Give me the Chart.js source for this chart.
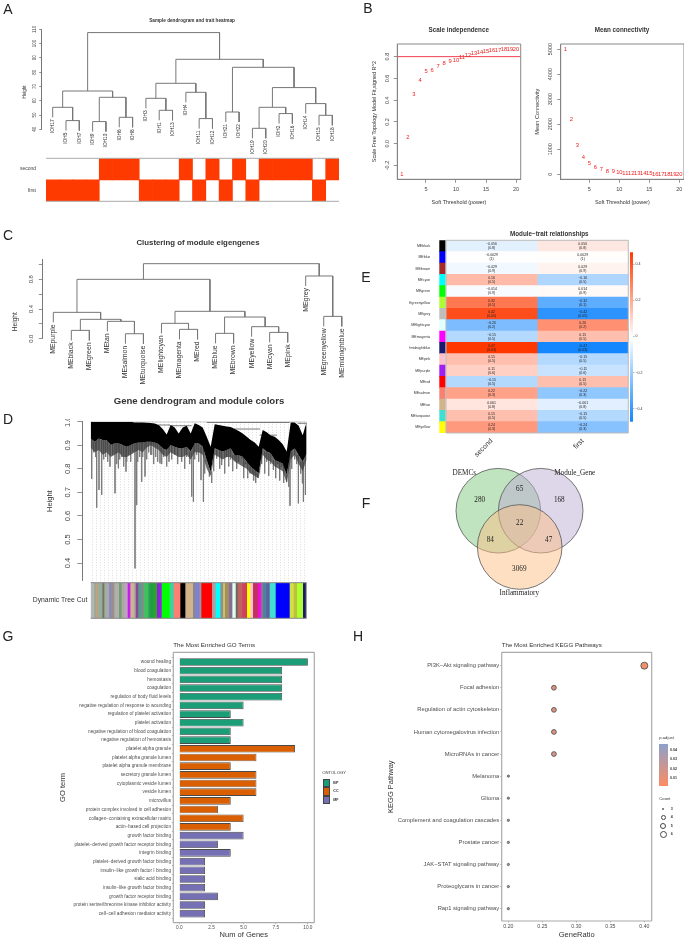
<!DOCTYPE html>
<html>
<head>
<meta charset="utf-8">
<title>Figure</title>
<script src="https://cdn.jsdelivr.net/npm/chart.js@4"></script>
<style>
html,body{margin:0;padding:0;background:#fff}
#page{position:relative;width:685px;height:939px;overflow:hidden;background:#fff;filter:blur(0.35px)}
#page canvas{position:absolute}
#page div{position:absolute}
</style>
</head>
<body>
<div id="page"></div>
<script>
// ---- panel A
var sampleLeaves = ['IOH17','IOH5','IOH7','IOH9','IOH10','IOH6','IOH8','IOH3','IOH1','IOH13','IOH4','IOH11','IOH12','IOH21','IOH22','IOH19','IOH20','IOH2','IOH16','IOH14','IOH15','IOH18'];
// merges like hclust: negative = leaf number, positive = earlier merge, then height
var sampleMerges = [[-2,-3,46.1],[-1,1,55.4],[-4,-5,45.4],[-6,-7,48.4],[3,4,62.4],[2,5,66.8],[-9,-10,53.3],[-8,7,61.7],[-12,-13,47.5],[-11,9,65.9],[8,10,72.2],[-14,-15,52.1],[-16,-17,40.7],[-18,-19,51],[13,14,55.4],[-21,-22,49.8],[-20,16,58],[15,17,69.2],[12,18,83.4],[11,19,89],[6,20,107.7]];
var sampleTicks = [40,50,60,70,80,90,100,110];
var traitSecond = [0,0,0,0,1,1,1,0,0,0,1,0,1,0,1,0,1,1,1,1,0,1];
var traitFirst  = [1,1,1,1,0,0,0,1,1,1,0,1,0,1,0,1,0,0,0,0,1,0];

// ---- panel B
var powers = [1,2,3,4,5,6,7,8,9,10,11,12,13,14,15,16,17,18,19,20];
var scaleFit = [-0.284,0.061,0.456,0.581,0.66,0.676,0.714,0.74,0.755,0.768,0.79,0.807,0.829,0.838,0.844,0.853,0.859,0.865,0.865,0.868];
var meanConn = [5000,2195,1150,675,437,278,198,132,106,80,53,40,40,26,26,13,13,13,13,13];
var powerTicks = [5,10,15,20];
var fitTicks = [-0.2,0,0.2,0.4,0.6,0.8];
var connTicks = [0,1000,2000,3000,4000,5000];

// ---- panel C
var eigenLeaves = ['MEpurple','MEblack','MEgreen','MEtan','MEsalmon','MEturquoise','MElightcyan','MEmagenta','MEred','MEblue','MEbrown','MEyellow','MEcyan','MEpink','MEgrey','MEgreenyellow','MEmidnightblue'];
var eigenMerges = [[-2,-3,0.112],[-5,-6,0.067],[-4,2,0.234],[1,3,0.261],[-1,4,0.355],[-8,-9,0.126],[-7,6,0.207],[-10,-11,0.072],[-13,-14,0.085],[-12,9,0.162],[8,10,0.292],[7,11,0.369],[5,12,0.8],[-16,-17,0.301],[-15,14,0.845],[13,15,1.011]];
var eigenTicks = [0,0.2,0.4,0.6,0.8,1];

// ---- panel D, every 4 units of tree position
var treeUpper = [1,1,1,1,1,1,1,1,1,1,1,0.997,0.997,0.997,0.996,0.994,0.992,0.986,0.969,0.946,0.986,0.975,0.95,0.975,0.983,0.95,0.993,0.986,0.975,0.936,0.894,0.989,0.986,0.983,0.98,0.977,0.969,0.96,0.95,0.936,0.922,0.912,0.894,0.965,0.955,0.941,0.936,0.922,0.904,0.873,0.997,0.997,0.983,0.943,1];
var treeLower = [0.929,0.915,0.929,0.922,0.922,0.901,0.908,0.908,0.901,0.894,0.901,0.908,0.912,0.912,0.915,0.915,0.912,0.904,0.887,0.88,0.901,0.894,0.887,0.887,0.894,0.873,0.908,0.908,0.894,0.837,0.788,0.887,0.88,0.873,0.88,0.887,0.858,0.858,0.851,0.83,0.809,0.795,0.781,0.887,0.873,0.866,0.837,0.83,0.823,0.774,0.873,0.887,0.858,0.83,0.866];
var treeFuzz = [0.89,0.87,0.88,0.86,0.87,0.85,0.86,0.87,0.85,0.85,0.86,0.87,0.88,0.87,0.89,0.9,0.89,0.88,0.86,0.85,0.87,0.86,0.85,0.85,0.86,0.84,0.87,0.87,0.86,0.8,0.77,0.86,0.85,0.84,0.85,0.85,0.83,0.82,0.81,0.8,0.78,0.77,0.76,0.86,0.84,0.83,0.81,0.8,0.79,0.74,0.84,0.86,0.82,0.79,0.84];
var treeSpikeX = [1,3,6,8.3,11,15,19.3,22,24.3,27.7,31,35.3,38,40,42,44.3,46,49,51,54.3,58,61,65,69.3,73,78.3,84,91,96,101,102.7,106,110.3,112.7,116,118.7,126,131,136,140,144.3,148,151,155,159.3,161.7,167,171,176,180,182.7,187,191,196,198,199.3,204,207.7,211.7,212.7,214.7,5,13,17,26,29,33,36,47,52,56,60,63,67,71,76,81,87,94,99,104,108,114,121,123,129,134,138,142,146,153,157,163,165,169,174,178,185,189,193,201,206,210];
var treeSpikeH = [0.757,0.87,0.635,0.71,0.689,0.85,0.809,0.86,0.696,0.802,0.85,0.788,0.86,0.83,0.87,0.377,0.646,0.85,0.745,0.767,0.87,0.86,0.85,0.823,0.85,0.83,0.86,0.83,0.85,0.682,0.66,0.86,0.752,0.66,0.84,0.767,0.844,0.816,0.85,0.84,0.837,0.83,0.844,0.82,0.781,0.781,0.762,0.82,0.83,0.82,0.795,0.82,0.809,0.745,0.724,0.643,0.84,0.653,0.738,0.66,0.689,0.85,0.84,0.83,0.82,0.84,0.81,0.83,0.83,0.85,0.84,0.86,0.82,0.83,0.82,0.81,0.84,0.82,0.8,0.82,0.84,0.83,0.78,0.74,0.79,0.8,0.78,0.81,0.79,0.8,0.76,0.76,0.75,0.74,0.8,0.78,0.77,0.76,0.75,0.74,0.8,0.82,0.78];
var treeBranches = [[67.7,79.3,0.986],[79,101,0.983],[142.7,169.3,0.969],[169,186,0.943],[116,199,0.997],[207,216,0.993]];
var heightTicks = [0.4,0.5,0.6,0.7,0.8,0.9,1];
var treeCutWidths = [10,4,8,12,6,6,8,10,6,14,8,8,10,8,10,6,8,10,6,14,6,10,10,14,24,12,20,15,23,6,14,5,32,11,14,8,6,12,10,10,6,14,14,10,8,16,8,6,10,10,18,42,12,10,18,8,4];
var treeCutColors = ['#b5b5b5','#8fa88f','#c0a080','#8fb09f','#807060','#9fb0a0','#a9a9b0','#8c8cb0','#a09080','#b0b0b0','#6fa070','#b0a8a0','#bfa0bf','#c020f0','#d2b48c','#a9a9a9','#8a4a90','#5a9a8a','#888888','#40c060','#30a050','#20a040','#30a030','#9020e0','#00ff00','#40d0a0','#fa8072','#000000','#d2b48c','#888888','#8080d0','#999999','#ff0000','#b0a0a0','#00ffff','#909090','#d0c060','#a09060','#8a6a9a','#e0ffe8','#666666','#c06060','#d04060','#ffff00','#ffc0cb','#c03060','#ff00ff','#808080','#5080a0','#6060a0','#40e0d0','#0000ff','#d0e040','#c0c040','#adff2f','#191970','#808060'];

// ---- panel E
var modules = ['MEblack','MEblue','MEbrown','MEcyan','MEgreen','MEgreenyellow','MEgrey','MElightcyan','MEmagenta','MEmidnightblue','MEpink','MEpurple','MEred','MEsalmon','MEtan','MEturquoise','MEyellow'];
var moduleColors = ['#000000','#0000ff','#a52a2a','#00ffff','#00ff00','#adff2f','#bebebe','#e0ffff','#ff00ff','#191970','#ffc0cb','#a020f0','#ff0000','#fa8072','#d2b48c','#40e0d0','#ffff00'];
var traits = ['second','first'];
var corSecond = [-0.056,-0.0029,-0.029,0.16,-0.014,0.32,0.42,-0.26,-0.15,0.47,0.15,0.11,-0.15,0.22,0.061,0.15,0.24];
var corFirst = [0.056,0.0029,0.029,-0.16,0.014,-0.32,-0.42,0.26,0.15,-0.47,-0.15,-0.11,0.15,-0.22,-0.061,-0.15,-0.24];
var corP = [0.8,1,0.9,0.5,0.9,0.1,0.05,0.2,0.5,0.03,0.5,0.6,0.5,0.3,0.8,0.5,0.3];
var corTicks = [-0.4,-0.2,0,0.2,0.4];

// ---- panel F
var vennSets = ['DEMCs','Module_Gene','Inflammatory'];
var vennCounts = [280,168,65,22,84,47,3069];

// ---- panel G
var goTerms = ['wound healing','blood coagulation','hemostasis','coagulation','regulation of body fluid levels','negative regulation of response to wounding','regulation of platelet activation','platelet activation','negative regulation of blood coagulation','negative regulation of hemostasis','platelet alpha granule','platelet alpha granule lumen','platelet alpha granule membrane','secretory granule lumen','cytoplasmic vesicle lumen','vesicle lumen','microvillus','protein complex involved in cell adhesion','collagen\u2212containing extracellular matrix','actin\u2212based cell projection','growth factor binding','platelet\u2212derived growth factor receptor binding','integrin binding','platelet\u2212derived growth factor binding','insulin\u2212like growth factor I binding','sialic acid binding','insulin\u2212like growth factor binding','growth factor receptor binding','protein serine/threonine kinase inhibitor activity','cell\u2212cell adhesion mediator activity'];
var goCounts = [10,8,8,8,8,5,4,5,4,4,9,6,4,6,6,6,4,3,5,4,5,3,4,2,2,2,2,3,2,2];
var goOntology = ['BP','BP','BP','BP','BP','BP','BP','BP','BP','BP','CC','CC','CC','CC','CC','CC','CC','CC','CC','CC','MF','MF','MF','MF','MF','MF','MF','MF','MF','MF'];
var goTicks = [0,2.5,5,7.5,10];

// ---- panel H
var keggPaths = ['PI3K\u2212Akt signaling pathway','Focal adhesion','Regulation of actin cytoskeleton','Human cytomegalovirus infection','MicroRNAs in cancer','Melanoma','Glioma','Complement and coagulation cascades','Prostate cancer','JAK\u2212STAT signaling pathway','Proteoglycans in cancer','Rap1 signaling pathway'];
var keggRatio = [0.4,0.267,0.267,0.267,0.267,0.2,0.2,0.2,0.2,0.2,0.2,0.2];
var keggCount = [6,4,4,4,4,3,3,3,3,3,3,3];
var keggPadj = [0.004,0.012,0.012,0.012,0.015,0.028,0.028,0.028,0.028,0.028,0.03,0.03];
var ratioTicks = [0.2,0.25,0.3,0.35,0.4];

var SANS = '"Liberation Sans", Arial, sans-serif';
var SERIF = '"Liberation Serif", "Times New Roman", serif';
var page = document.getElementById('page');
Chart.defaults.font.family = SANS;

// titles, panel letters and legend text go on one see-through sheet
var sheet = document.createElement('canvas');
sheet.width = 685;
sheet.height = 939;
sheet.style.left = '0';
sheet.style.top = '0';
sheet.style.zIndex = '5';
page.appendChild(sheet);
var sheetCtx = sheet.getContext('2d');

// frame round the plot area
Chart.register({
  id: 'frame',
  afterDatasetsDraw: function(chart, args, o) {
    if (!o.color) return;
    var a = chart.chartArea, c = chart.ctx;
    var sides = o.sides || ['top','right','bottom','left'];
    var left = o.fromX !== undefined ? chart.scales.x.getPixelForValue(o.fromX) : a.left;
    c.save();
    c.strokeStyle = o.color;
    c.lineWidth = o.width || 1;
    c.beginPath();
    if (sides.indexOf('top') >= 0) { c.moveTo(left, a.top); c.lineTo(a.right, a.top); }
    if (sides.indexOf('bottom') >= 0) { c.moveTo(left, a.bottom); c.lineTo(a.right, a.bottom); }
    if (sides.indexOf('left') >= 0) { c.moveTo(left, a.top); c.lineTo(left, a.bottom); }
    if (sides.indexOf('right') >= 0) { c.moveTo(a.right, a.top); c.lineTo(a.right, a.bottom); }
    c.stroke();
    c.restore();
  }
});

// put a chart on the page so that its plot area lands on area = [left, top, right, bottom]
function place(area, margin, cfg) {
  var left = Math.floor(area[0] - margin[0]), top = Math.floor(area[1] - margin[1]);
  var right = Math.ceil(area[2] + margin[2]), bottom = Math.ceil(area[3] + margin[3]);
  var cv = document.createElement('canvas');
  cv.width = right - left;
  cv.height = bottom - top;
  cv.style.left = left + 'px';
  cv.style.top = top + 'px';
  page.appendChild(cv);
  var sc = cfg.options.scales;
  var onRight = sc.y.position === 'right';
  sc.x.afterFit = function(s) { s.height = bottom - area[3]; s.paddingLeft = s.paddingRight = s.paddingTop = s.paddingBottom = 0; };
  sc.y.afterFit = function(s) { s.width = onRight ? right - area[2] : area[0] - left; s.paddingLeft = s.paddingRight = s.paddingTop = s.paddingBottom = 0; };
  cfg.options.responsive = false;
  cfg.options.animation = false;
  cfg.options.layout = { autoPadding: false, padding: { top: area[1] - top, left: onRight ? area[0] - left : 0, right: onRight ? 0 : right - area[2], bottom: 0 } };
  cfg.options.plugins = Object.assign({ legend: { display: false }, tooltip: { enabled: false } }, cfg.options.plugins || {});
  return new Chart(cv, cfg);
}

function txt(s, x, y, size, o) {
  o = o || {};
  var c = sheetCtx;
  c.save();
  c.font = (o.bold ? 'bold ' : '') + size + 'px ' + (o.font || SANS);
  c.fillStyle = o.color || '#333';
  c.textAlign = o.align || 'center';
  c.textBaseline = 'middle';
  c.translate(x, y);
  if (o.rot) c.rotate(o.rot * Math.PI / 180);
  c.fillText(s, 0, 0);
  c.restore();
}

var meter = document.createElement('canvas').getContext('2d');
function textWidth(s, size) {
  meter.font = size + 'px ' + SANS;
  return meter.measureText(s).width;
}

// base-R looking axes
function rAxisY(ticks, min, max, size, tl, dist, fmt, extra) {
  var widest = 0;
  ticks.forEach(function(t) { widest = Math.max(widest, textWidth(fmt(t), size)); });
  return Object.assign({
    type: 'linear', min: min, max: max,
    afterBuildTicks: function(s) { s.ticks = ticks.map(function(v) { return { value: v }; }); },
    ticks: { autoSkip: false, font: { size: size }, color: '#444', minRotation: 90, maxRotation: 90, crossAlign: 'center', padding: dist - tl - widest / 2, callback: fmt },
    grid: { drawOnChartArea: false, tickLength: tl, color: '#777', lineWidth: 0.8 },
    border: { color: '#777', width: 1 }
  }, extra || {});
}
function rAxisX(ticks, min, max, size, tl, pad, extra) {
  return Object.assign({
    type: 'linear', min: min, max: max,
    afterBuildTicks: function(s) { s.ticks = ticks.map(function(v) { return { value: v }; }); },
    ticks: { autoSkip: false, font: { size: size }, color: '#444', maxRotation: 0, padding: pad, callback: function(v) { return String(v); } },
    grid: { drawOnChartArea: false, tickLength: tl, color: '#777', lineWidth: 0.8 },
    border: { color: '#777', width: 1 }
  }, extra || {});
}
function hiddenAxis(min, max) {
  return { type: 'linear', min: min, max: max, ticks: { display: false }, grid: { display: false }, border: { display: false } };
}
function axisTitle(text, size) {
  return { display: true, text: text, font: { size: size }, color: '#333', padding: 0 };
}

// turns merges into a broken line (NaN = pen up) and remembers where each leaf ends
function dendroLines(merges, hang) {
  var pts = [], mid = [], ends = {};
  function side(id, h) {
    if (id < 0) {
      ends[-id] = h - hang;
      return { x: -id, y: h - hang };
    }
    return { x: mid[id - 1], y: merges[id - 1][2] };
  }
  merges.forEach(function(m) {
    var a = side(m[0], m[2]), b = side(m[1], m[2]);
    mid.push((a.x + b.x) / 2);
    pts.push({ x: a.x, y: a.y }, { x: a.x, y: m[2] }, { x: b.x, y: m[2] }, { x: b.x, y: b.y }, { x: a.x, y: NaN });
  });
  return { pts: pts, ends: ends };
}
function leafLabels(names, ends, size, gap) {
  return {
    id: 'leafLabels',
    afterDatasetsDraw: function(chart) {
      var c = chart.ctx;
      c.save();
      c.font = size + 'px ' + SANS;
      c.fillStyle = '#333';
      c.textAlign = 'right';
      c.textBaseline = 'middle';
      names.forEach(function(n, i) {
        c.save();
        c.translate(chart.scales.x.getPixelForValue(i + 1), chart.scales.y.getPixelForValue(ends[i + 1]) + gap);
        c.rotate(-Math.PI / 2);
        c.fillText(n, 0, 0);
        c.restore();
      });
      c.restore();
    }
  };
}
function treeSet(pts) {
  return { type: 'scatter', data: pts, showLine: true, borderColor: '#777', borderWidth: 1, pointRadius: 0, clip: false, spanGaps: false, tension: 0 };
}

// panel letters
[['A',8,10],['B',368,9],['C',8,236],['D',8,420],['E',366,278],['F',366,504],['G',8,637],['H',358,637]].forEach(function(p) {
  txt(p[0], p[1], p[2], 14, { color: '#222' });
});

// ---- A: dendrogram
var aTree = dendroLines(sampleMerges, 7);
txt('Sample dendrogram and trait heatmap', 192, 20.7, 4.7, { bold: true });
txt('Height', 24.7, 92, 4.5, { rot: -90 });
place([41.7, 29.3, 339, 129.3], [12, 4, 2, 28], {
  type: 'scatter',
  data: { datasets: [treeSet(aTree.pts)] },
  options: {
    scales: {
      x: hiddenAxis(0.176, 22.5),
      y: rAxisY(sampleTicks, 40, 110, 4.5, 2.5, 7, String)
    }
  },
  plugins: [leafLabels(sampleLeaves, aTree.ends, 4.8, 2)]
});
// A: trait heatmap
place([46, 158.3, 339, 201.3], [30, 2, 2, 2], {
  type: 'bar',
  data: {
    labels: sampleLeaves,
    datasets: [
      { data: traitSecond.map(function(v) { return v ? [1, 2] : null; }), backgroundColor: '#ff3a00', grouped: false, barPercentage: 1, categoryPercentage: 1 },
      { data: traitFirst.map(function(v) { return v ? [0, 1] : null; }), backgroundColor: '#ff3a00', grouped: false, barPercentage: 1, categoryPercentage: 1 }
    ]
  },
  options: {
    plugins: { frame: { color: '#aaa', width: 1, sides: ['top', 'bottom'] } },
    scales: {
      x: { type: 'category', ticks: { display: false }, grid: { display: false }, border: { display: false } },
      y: {
        type: 'linear', min: 0, max: 2,
        afterBuildTicks: function(s) { s.ticks = [{ value: 0.5 }, { value: 1.5 }]; },
        ticks: { font: { size: 5 }, color: '#444', padding: 2, callback: function(v) { return v > 1 ? 'second' : 'first'; } },
        grid: { display: false }, border: { display: false }
      }
    }
  }
});

// ---- B: red numbers as points
function powerLabels() {
  return {
    id: 'powerLabels',
    afterDatasetsDraw: function(chart) {
      var c = chart.ctx, els = chart.getDatasetMeta(0).data;
      c.save();
      c.font = '5.8px ' + SANS;
      c.fillStyle = '#ee2222';
      c.textAlign = 'center';
      c.textBaseline = 'middle';
      els.forEach(function(el, i) { c.fillText(String(powers[i]), el.x, el.y); });
      c.restore();
    }
  };
}
function xy(xs, ys) { return xs.map(function(x, i) { return { x: x, y: ys[i] }; }); }

txt('Scale independence', 458.7, 30.7, 6.3, { bold: true });
place([397.3, 44, 520.7, 179.3], [26, 2, 3, 26.7], {
  type: 'scatter',
  data: { datasets: [
    { data: xy(powers, scaleFit), pointRadius: 0 },
    { data: [{ x: 0.22, y: 0.8 }, { x: 20.78, y: 0.8 }], showLine: true, borderColor: '#f04050', borderWidth: 1, pointRadius: 0 }
  ] },
  options: {
    plugins: { frame: { color: '#888', width: 1 } },
    scales: {
      x: rAxisX(powerTicks, 0.22, 20.78, 5.5, 3.5, 3.5, { title: axisTitle('Soft Threshold (power)', 5.4) }),
      y: rAxisY(fitTicks, -0.327, 0.916, 5.5, 3.5, 10, function(v) { return Number(v).toFixed(1); }, { title: axisTitle('Scale Free Topology Model Fit,signed R^2', 5.4) })
    }
  },
  plugins: [powerLabels()]
});

txt('Mean connectivity', 622, 30.7, 6.3, { bold: true });
place([560.7, 44, 684, 179.3], [26, 2, 0, 26.7], {
  type: 'scatter',
  data: { datasets: [{ data: xy(powers, meanConn), pointRadius: 0 }] },
  options: {
    plugins: { frame: { color: '#888', width: 1 } },
    scales: {
      x: rAxisX(powerTicks, 0.22, 20.78, 5.5, 3.5, 3.5, { title: axisTitle('Soft Threshold (power)', 5.4) }),
      y: rAxisY(connTicks, -200, 5200, 5.5, 3.5, 10, String, { title: axisTitle('Mean Connectivity', 5.6) })
    }
  },
  plugins: [powerLabels()]
});

// ---- C
var cTree = dendroLines(eigenMerges, 0.135);
txt('Clustering of module eigengenes', 198, 243, 7.8, { bold: true });
txt('Height', 15, 321.7, 6.6, { rot: -90 });
place([42.3, 259, 345, 338.7], [14, 2, 2, 52], {
  type: 'scatter',
  data: { datasets: [treeSet(cTree.pts)] },
  options: {
    scales: {
      x: hiddenAxis(0.389, 17.18),
      y: rAxisY(eigenTicks, 0, 1.074, 5.8, 3.5, 11.3, function(v) { return Math.abs(v * 10 % 4) < 0.01 ? Number(v).toFixed(1) : ''; })
    }
  },
  plugins: [leafLabels(eigenLeaves, cTree.ends, 6.9, 2)]
});

// ---- D: dendrogram
var treePos = treeUpper.map(function(h, i) { return i * 4; });
var spikePts = [];
// each spike hangs from the black mass, so nothing shows in the white wedges above it
treeSpikeX.forEach(function(x, i) { spikePts.push({ x: x, y: treeLower[Math.round(x / 4)] }, { x: x, y: treeSpikeH[i] }, { x: x, y: NaN }); });
var branchPts = [];
treeBranches.forEach(function(b) { branchPts.push({ x: b[0], y: b[2] }, { x: b[1], y: b[2] }, { x: b[1], y: NaN }); });
txt('Gene dendrogram and module colors', 199, 401, 9.6, { bold: true });
place([82.3, 421.7, 306.7, 580.7], [37, 2, 2, 2], {
  type: 'scatter',
  data: { datasets: [
    { data: xy(treePos, treeUpper), showLine: true, borderWidth: 0, borderColor: 'rgba(0,0,0,0)', pointRadius: 0 },
    { data: xy(treePos, treeLower), showLine: true, borderWidth: 0, borderColor: 'rgba(0,0,0,0)', pointRadius: 0, fill: '-1', backgroundColor: '#000' },
    { data: xy(treePos, treeFuzz), showLine: true, borderWidth: 0, borderColor: 'rgba(0,0,0,0)', pointRadius: 0, fill: '-1', backgroundColor: 'rgba(60,60,60,0.75)' },
    { data: branchPts, showLine: true, borderColor: '#222', borderWidth: 0.6, pointRadius: 0, spanGaps: false },
    { data: [{ x: 0, y: 1 }, { x: 216, y: 1 }], showLine: true, borderColor: '#999', borderWidth: 1.2, pointRadius: 0 },
    { data: spikePts, showLine: true, borderColor: '#777', borderWidth: 0.8, pointRadius: 0, spanGaps: false }
  ] },
  options: {
    scales: {
      x: {
        type: 'linear', min: -8.4, max: 216,
        afterBuildTicks: function(s) {
          s.ticks = [];
          for (var v = 2; v < 216; v += 4) s.ticks.push({ value: v });
        },
        ticks: { display: false },
        grid: { color: '#cfcfcf', lineWidth: 0.7, drawTicks: false },
        border: { display: false, dash: [1, 1.6] }
      },
      y: rAxisY(heightTicks, 0.325, 1, 7.5, 5, 14, function(v) { return Number(v).toFixed(1); }, { title: axisTitle('Height', 7.5) })
    }
  }
});
// D: colour strip
txt('Dynamic Tree Cut', 87.3, 600, 6.8, { align: 'right' });
place([90.7, 582.7, 306.7, 618.3], [2, 2, 2, 2], {
  type: 'bar',
  data: {
    labels: ['Dynamic Tree Cut'],
    datasets: treeCutWidths.map(function(w, i) {
      return { data: [w], backgroundColor: treeCutColors[i], barPercentage: 1, categoryPercentage: 1, stack: 's' };
    })
  },
  options: {
    indexAxis: 'y',
    plugins: { frame: { color: '#888', width: 1, sides: ['top', 'bottom'] } },
    scales: {
      x: Object.assign(hiddenAxis(0, 648), { stacked: true }),
      y: { type: 'category', stacked: true, ticks: { display: false }, grid: { display: false }, border: { display: false } }
    }
  }
});

// ---- E: heatmap
function corColor(v) {
  var t = Math.min(Math.abs(v) / 0.47, 1);
  var to = v > 0 ? [255, 56, 0] : [20, 135, 255];
  return 'rgb(' + to.map(function(c) { return Math.round(255 + (c - 255) * t); }).join(',') + ')';
}
function cellBars(from, to) { return modules.map(function() { return [from, to]; }); }
function minusSign(v) { return String(v).replace('-', '\u2212'); }
var corText = {
  id: 'corText',
  afterDatasetsDraw: function(chart) {
    var c = chart.ctx, sx = chart.scales.x, sy = chart.scales.y;
    c.save();
    c.font = '3.5px ' + SANS;
    c.fillStyle = '#222';
    c.textAlign = 'center';
    c.textBaseline = 'middle';
    modules.forEach(function(m, i) {
      var y = sy.getPixelForValue(i);
      c.fillText(minusSign(corSecond[i]), sx.getPixelForValue(0.5), y - 1.9);
      c.fillText('(' + corP[i] + ')', sx.getPixelForValue(0.5), y + 1.9);
      c.fillText(minusSign(corFirst[i]), sx.getPixelForValue(1.5), y - 1.9);
      c.fillText('(' + corP[i] + ')', sx.getPixelForValue(1.5), y + 1.9);
    });
    c.restore();
  }
};
txt('Module\u2212trait relationships', 549.3, 234, 6.3, { bold: true });
place([439.3, 240.3, 628.3, 433], [30, 2, 2, 34], {
  type: 'bar',
  data: {
    labels: modules,
    datasets: [
      { data: cellBars(-0.0735, -0.008), backgroundColor: moduleColors, grouped: false, barPercentage: 1, categoryPercentage: 1 },
      { data: cellBars(0, 1), backgroundColor: corSecond.map(corColor), grouped: false, barPercentage: 1, categoryPercentage: 1 },
      { data: cellBars(1, 2), backgroundColor: corFirst.map(corColor), grouped: false, barPercentage: 1, categoryPercentage: 1 }
    ]
  },
  options: {
    indexAxis: 'y',
    plugins: { frame: { color: '#bbb', width: 1, fromX: 0 } },
    scales: {
      x: {
        type: 'linear', min: -0.0735, max: 2,
        afterBuildTicks: function(s) { s.ticks = [{ value: 0.5 }, { value: 1.5 }]; },
        ticks: { font: { size: 7 }, color: '#333', minRotation: 45, maxRotation: 45, padding: -4, callback: function(v) { return traits[v < 1 ? 0 : 1]; } },
        grid: { display: false }, border: { display: false }
      },
      y: {
        type: 'category',
        ticks: { autoSkip: false, font: { size: 3.5 }, color: '#333', padding: 1 },
        grid: { display: false }, border: { display: false }
      }
    }
  },
  plugins: [corText]
});
// E: colour bar
place([630, 252.3, 633, 421.7], [1, 2, 14, 2], {
  type: 'bar',
  data: {
    labels: ['cor'],
    datasets: [{
      data: [[-0.472, 0.466]], barPercentage: 1, categoryPercentage: 1,
      backgroundColor: function(ctx) {
        var ch = ctx.chart, a = ch.chartArea;
        if (!a) return '#fff';
        var g = ch.ctx.createLinearGradient(0, a.top, 0, a.bottom);
        g.addColorStop(0, corColor(0.47));
        g.addColorStop(0.5, '#ffffff');
        g.addColorStop(1, corColor(-0.47));
        return g;
      }
    }]
  },
  options: {
    scales: {
      x: { type: 'category', ticks: { display: false }, grid: { display: false }, border: { display: false } },
      y: {
        type: 'linear', position: 'right', min: -0.472, max: 0.466,
        afterBuildTicks: function(s) { s.ticks = corTicks.map(function(v) { return { value: v }; }); },
        ticks: { autoSkip: false, font: { size: 3.6 }, color: '#333', padding: 1, callback: function(v) { return v === 0 ? '0' : minusSign(v); } },
        grid: { drawOnChartArea: false, tickLength: 1.5, color: '#777', lineWidth: 0.5 },
        border: { display: false }
      }
    }
  }
});

// ---- F: venn
var vennText = {
  id: 'vennText',
  afterDatasetsDraw: function(chart) {
    var c = chart.ctx, sx = chart.scales.x, sy = chart.scales.y;
    function put(s, x, y) { c.fillText(String(s), sx.getPixelForValue(x), sy.getPixelForValue(y)); }
    c.save();
    c.font = '7.2px ' + SERIF;
    c.fillStyle = '#222';
    c.textAlign = 'center';
    c.textBaseline = 'middle';
    put(vennSets[0], 464.3, 472.7);
    put(vennSets[1], 574.7, 473);
    put(vennSets[2], 519.3, 592.7);
    put(vennCounts[0], 479.7, 500);
    put(vennCounts[1], 559.3, 500);
    put(vennCounts[2], 519.7, 489.3);
    put(vennCounts[3], 519.7, 523);
    put(vennCounts[4], 490.3, 540);
    put(vennCounts[5], 548.7, 540);
    put(vennCounts[6], 519.3, 568.7);
    c.restore();
  }
};
function vennCircle(x, y, fill) {
  return { data: [{ x: x, y: y, r: 42.3 }], backgroundColor: fill, borderColor: '#555', borderWidth: 0.8, clip: false };
}
// later datasets are painted first, so the orange one ends up on top
place([440, 462, 600, 600], [0, 0, 0, 0], {
  type: 'bubble',
  data: { datasets: [
    vennCircle(519.7, 547, 'rgba(253,192,134,0.5)'),
    vennCircle(540.7, 510.7, 'rgba(190,174,212,0.5)'),
    vennCircle(498.3, 510.7, 'rgba(127,201,127,0.5)')
  ] },
  options: { scales: { x: hiddenAxis(440, 600), y: Object.assign(hiddenAxis(462, 600), { reverse: true }) } },
  plugins: [vennText]
});

// ---- G: GO bars
var ontologyColor = { BP: '#1b9e77', CC: '#d95f02', MF: '#7570b3' };
txt('The Most Enriched GO Terms', 173.3, 645.7, 6.2, { align: 'left' });
place([173.3, 652.3, 314.3, 922.7], [115, 2, 2, 15.5], {
  type: 'bar',
  data: { datasets: [{
    data: goCounts.map(function(v, i) { return { x: v, y: i }; }),
    backgroundColor: goOntology.map(function(o) { return ontologyColor[o]; }),
    borderColor: '#4a4a4a', borderWidth: 0.9, barPercentage: 0.88, categoryPercentage: 1
  }] },
  options: {
    indexAxis: 'y',
    plugins: { frame: { color: '#aaa', width: 1.2 } },
    scales: {
      x: {
        type: 'linear', min: -0.47, max: 10.5,
        afterBuildTicks: function(s) { s.ticks = goTicks.map(function(v) { return { value: v }; }); },
        ticks: { autoSkip: false, font: { size: 4.7 }, color: '#4d4d4d', maxRotation: 0, padding: 0.5, callback: function(v) { return Number(v).toFixed(1); } },
        grid: { drawOnChartArea: false, tickLength: 1.5, color: '#777', lineWidth: 0.5 },
        border: { display: false },
        title: axisTitle('Num of Genes', 7.5)
      },
      y: {
        type: 'linear', reverse: true, min: -0.6, max: 29.52,
        afterBuildTicks: function(s) { s.ticks = goTerms.map(function(t, i) { return { value: i }; }); },
        ticks: { autoSkip: false, font: { size: 4.7 }, color: '#4d4d4d', padding: 0.8, callback: function(v) { return goTerms[v]; } },
        grid: { drawOnChartArea: false, tickLength: 1.5, color: '#777', lineWidth: 0.5 },
        border: { display: false },
        title: axisTitle('GO term', 7.5)
      }
    }
  }
});
txt('ONTOLOGY', 322.3, 773.3, 4.2, { align: 'left' });
['BP', 'CC', 'MF'].forEach(function(o, i) {
  var b = document.createElement('div');
  b.style.cssText = 'left:322.7px;top:' + (778.5 + i * 8.5) + 'px;width:7.6px;height:8.5px;box-sizing:border-box;border:0.6px solid #444;background:' + ontologyColor[o];
  page.appendChild(b);
  txt(o, 333.3, 782.7 + i * 8.5, 3.6, { align: 'left', bold: true });
});

// ---- H: KEGG dots
var countRadius = { 3: 1.1, 4: 2.4, 5: 3, 6: 3.5 };
function padjColor(p) {
  var t = Math.min(p / 0.043, 1), a = [252, 141, 98], b = [141, 160, 203];
  return 'rgb(' + a.map(function(c, i) { return Math.round(c + (b[i] - c) * t); }).join(',') + ')';
}
txt('The Most Enriched KEGG Pathways', 501.7, 645.7, 6.2, { align: 'left' });
place([501.7, 652.3, 651.7, 921], [115, 2, 2, 17.5], {
  type: 'scatter',
  data: { datasets: [{
    data: keggRatio.map(function(v, i) { return { x: v, y: i }; }),
    pointRadius: keggCount.map(function(n) { return countRadius[n]; }),
    pointBackgroundColor: keggPadj.map(padjColor),
    pointBorderColor: '#555', pointBorderWidth: 0.9
  }] },
  options: {
    plugins: { frame: { color: '#aaa', width: 1.2 } },
    scales: {
      x: {
        type: 'linear', min: 0.1902, max: 0.4108,
        afterBuildTicks: function(s) { s.ticks = ratioTicks.map(function(v) { return { value: v }; }); },
        ticks: { autoSkip: false, font: { size: 5.2 }, color: '#4d4d4d', maxRotation: 0, padding: 1, callback: function(v) { return Number(v).toFixed(2); } },
        grid: { drawOnChartArea: false, tickLength: 1.5, color: '#777', lineWidth: 0.5 },
        border: { display: false },
        title: axisTitle('GeneRatio', 7.5)
      },
      y: {
        type: 'linear', reverse: true, min: -0.605, max: 11.558,
        afterBuildTicks: function(s) { s.ticks = keggPaths.map(function(t, i) { return { value: i }; }); },
        ticks: { autoSkip: false, font: { size: 5.8 }, color: '#4d4d4d', padding: 1, callback: function(v) { return keggPaths[v]; } },
        grid: { drawOnChartArea: false, tickLength: 1.5, color: '#777', lineWidth: 0.5 },
        border: { display: false },
        title: axisTitle('KEGG Pathway', 7.5)
      }
    }
  }
});
txt('p.adjust', 659.3, 738.3, 4.2, { align: 'left' });
var pBar = document.createElement('div');
pBar.style.cssText = 'left:659.3px;top:743.7px;width:8.7px;height:42.3px;background:linear-gradient(to bottom,#8da0cb,#fc8d62)';
page.appendChild(pBar);
[['0.04', 750], ['0.03', 759.3], ['0.02', 769], ['0.01', 778.3]].forEach(function(p) {
  txt(p[0], 670, p[1], 3.6, { align: 'left', bold: true });
});
txt('Count', 659.3, 799.3, 4.2, { align: 'left' });
[3, 4, 5, 6].forEach(function(n, i) {
  var r = countRadius[n], y = 808.7 + i * 8.53;
  var c = document.createElement('div');
  c.style.cssText = 'left:' + (663.3 - r) + 'px;top:' + (y - r) + 'px;width:' + (2 * r) + 'px;height:' + (2 * r) + 'px;box-sizing:border-box;border:0.8px solid #444;border-radius:50%;background:' + (n === 3 ? '#444' : '#fff');
  page.appendChild(c);
  txt(String(n), 670.7, y, 3.6, { align: 'left', bold: true });
});
</script>
</body>
</html>
